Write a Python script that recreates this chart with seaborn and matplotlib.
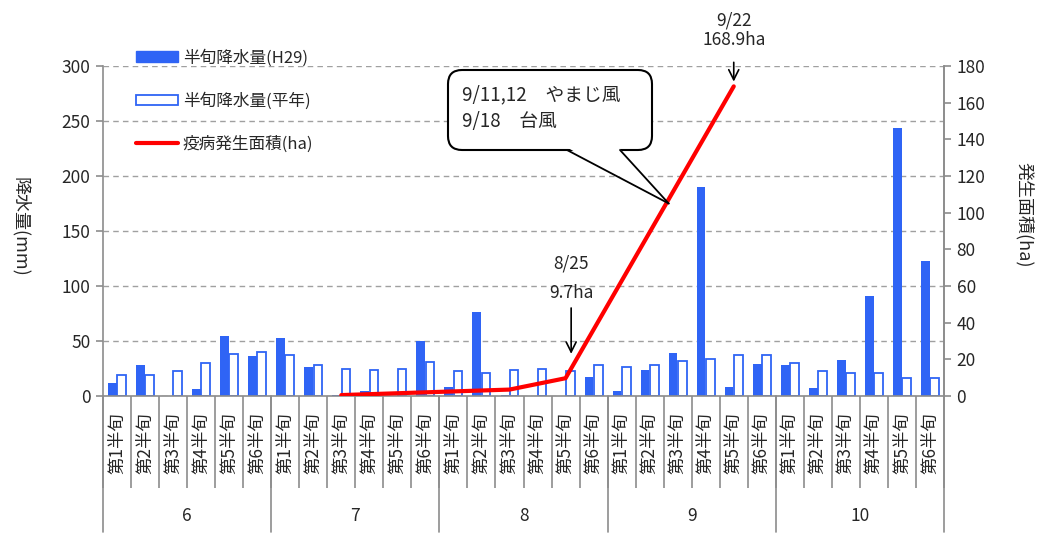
import numpy as np
import pandas as pd
import matplotlib
matplotlib.use("Agg")
import matplotlib.pyplot as plt
import matplotlib.transforms as mtransforms
from matplotlib.patches import Patch, FancyBboxPatch, Polygon
from matplotlib.lines import Line2D
import seaborn as sns

# 月と半旬
months = ["6", "7", "8", "9", "10"]
hanjun_labels = ["第1半旬", "第2半旬", "第3半旬", "第4半旬", "第5半旬", "第6半旬"]

# 半旬降水量 (mm)
rain_h29 = [12, 28, 0, 6, 55, 36,
            53, 26, 1, 5, 0, 50,
            8, 76, 1, 0, 0, 17,
            5, 24, 39, 190, 8, 29,
            28, 7, 33, 91, 244, 123]
rain_avg = [19, 19, 23, 30, 38, 40,
            37, 28, 25, 24, 25, 31,
            23, 21, 24, 25, 23, 28,
            26, 28, 32, 34, 37, 37,
            30, 23, 21, 21, 16, 16]

# 疫病発生面積 (ha), 観測のない半旬は None
area_ha = [None, None, None, None, None, None,
           None, None, 0.5, 1.0, 1.5, 2.0,
           2.5, 3.0, 3.5, 6.6, 9.7, None,
           None, None, None, None, 168.9, None,
           None, None, None, None, None, None]

BLUE = "#2F64F5"
RED = "#FF0000"
GRAY = "#8C8C8C"
W, H = 1039, 533

sns.set_theme(style="white")
plt.rcParams["font.family"] = ["Noto Sans CJK JP", "DejaVu Sans"]

n = len(rain_h29)
cats = [f"{m}-{i + 1}" for m in months for i in range(6)]
df = pd.DataFrame({
    "cat": cats * 2,
    "value": rain_h29 + rain_avg,
    "series": ["H29"] * n + ["avg"] * n,
})

fig = plt.figure(figsize=(W / 100, H / 100), dpi=100)
ax = fig.add_axes([103 / W, 1 - 396 / H, (944 - 103) / W, 330 / H])

sns.barplot(data=df, x="cat", y="value", hue="series", order=cats,
            palette=[BLUE, BLUE], width=0.66, gap=0.06, ax=ax,
            legend=False, saturation=1, errorbar=None)
for bar in ax.containers[0]:
    bar.set_edgecolor(BLUE)
    bar.set_linewidth(0)
for bar in ax.containers[1]:
    bar.set_facecolor("white")
    bar.set_edgecolor(BLUE)
    bar.set_linewidth(1.3)

ax.set_xlim(-0.5, n - 0.5)
ax.set_ylim(0, 300)
ax.set_yticks(np.arange(0, 301, 50))
ax.yaxis.grid(True, linestyle=(0, (4, 3)), color="#A0A0A0", linewidth=1)
ax.set_axisbelow(True)
ax.set_xlabel("")
ax.set_ylabel("")

# x軸: 半旬ラベルと区切り線
ax.set_xticks(range(n))
ax.set_xticklabels(hanjun_labels * len(months), rotation=90, fontsize=12.5)
ax.tick_params(axis="x", which="major", length=0, pad=12)
ax.set_xticks(np.arange(-0.5, n, 1), minor=True)
ax.tick_params(axis="x", which="minor", length=66, width=1.2, color=GRAY,
               direction="out", bottom=True)
ax.tick_params(axis="y", labelsize=12.5, length=5, width=1.2, color=GRAY,
               left=True, pad=4)

trans = mtransforms.blended_transform_factory(ax.transData, ax.transAxes)
for k, m in enumerate(months):
    ax.text(k * 6 + 2.5, -0.364, m, transform=trans, ha="center", va="center",
            fontsize=12.5)
for k in range(len(months) + 1):
    ax.plot([k * 6 - 0.5, k * 6 - 0.5], [0, -0.412], transform=trans,
            color=GRAY, lw=1.2, clip_on=False)

ax.spines["top"].set_visible(False)
for side in ["left", "bottom", "right"]:
    ax.spines[side].set_color(GRAY)
    ax.spines[side].set_linewidth(1.2)

# 右軸: 疫病発生面積
ax2 = ax.twinx()
line_df = pd.DataFrame({"x": range(n), "area": area_ha}).dropna()
sns.lineplot(data=line_df, x="x", y="area", ax=ax2, color=RED, lw=3,
             legend=False)
ax2.set_ylim(0, 180)
ax2.set_yticks(np.arange(0, 181, 20))
ax2.set_ylabel("")
ax2.set_xlabel("")
ax2.tick_params(axis="y", labelsize=12.5, length=5, width=1.2, color=GRAY,
                right=True, pad=4)
ax2.spines["top"].set_visible(False)
ax2.spines["right"].set_color(GRAY)
ax2.spines["right"].set_linewidth(1.2)
ax2.spines["left"].set_visible(False)
ax2.spines["bottom"].set_visible(False)
ax2.set_xlim(-0.5, n - 0.5)

# 軸タイトル
fig.text(20 / W, 1 - 227 / H, "降水量(mm)", rotation=-90,
         ha="center", va="center", fontsize=13)
fig.text(1024 / W, 1 - 215 / H, "発生面積(ha)", rotation=-90,
         ha="center", va="center", fontsize=13)

# 注記
ax2.text(16.2, 72, "8/25", ha="center", va="center", fontsize=12.5)
ax2.text(16.2, 56, "9.7ha", ha="center", va="center", fontsize=12.5)
ax2.annotate("", xy=(16.2, 23), xytext=(16.2, 48),
             arrowprops=dict(arrowstyle="->", color="black", lw=1.2,
                             shrinkA=0, shrinkB=0, mutation_scale=18),
             annotation_clip=False)
ax2.text(22, 205, "9/22", ha="center", va="center", fontsize=12.5,
         clip_on=False)
ax2.text(22, 194, "168.9ha", ha="center", va="center", fontsize=12.5,
         clip_on=False)
ax2.annotate("", xy=(22, 171.5), xytext=(22, 182),
             arrowprops=dict(arrowstyle="->", color="black", lw=1.2,
                             shrinkA=0, shrinkB=0, mutation_scale=18),
             annotation_clip=False)

# 吹き出し (figure pixels, 原点は左下)
px = mtransforms.IdentityTransform()
box = FancyBboxPatch((448, H - 150), 204, 80,
                     boxstyle="round,pad=0,rounding_size=14",
                     fc="white", ec="black", lw=1.5, transform=px, zorder=5)
fig.add_artist(box)
tip = ax2.transData.transform((19.68, 105))
base_l = (567, H - 150)
base_r = (620, H - 150)
tail = Polygon([(base_l[0] + 1, base_l[1] + 2), (base_r[0] - 1, base_r[1] + 2),
                tuple(tip)], closed=True, fc="white", ec="none",
               transform=px, zorder=6)
fig.add_artist(tail)
for bx, by in [base_l, base_r]:
    fig.add_artist(Line2D([bx, tip[0]], [by, tip[1]], color="black", lw=1.3,
                          transform=px, zorder=7))
fig.text(462, H - 95, "9/11,12　やまじ風", transform=px, ha="left",
         va="center", fontsize=13.5, zorder=8)
fig.text(462, H - 122, "9/18　台風", transform=px, ha="left",
         va="center", fontsize=13.5, zorder=8)

# 凡例
handles = [
    Patch(facecolor=BLUE, edgecolor=BLUE),
    Patch(facecolor="white", edgecolor=BLUE, linewidth=1.3),
    Line2D([0], [0], color=RED, lw=3),
]
labels = ["半旬降水量(H29)", "半旬降水量(平年)", "疫病発生面積(ha)"]
fig.legend(handles, labels, loc="upper left",
           bbox_to_anchor=(136 / W, 1 - 49 / H), frameon=False,
           fontsize=12, handlelength=2.5, handleheight=0.6,
           handletextpad=0.3, labelspacing=1.55, borderpad=0,
           borderaxespad=0)

fig.savefig("out.png", dpi=100)
